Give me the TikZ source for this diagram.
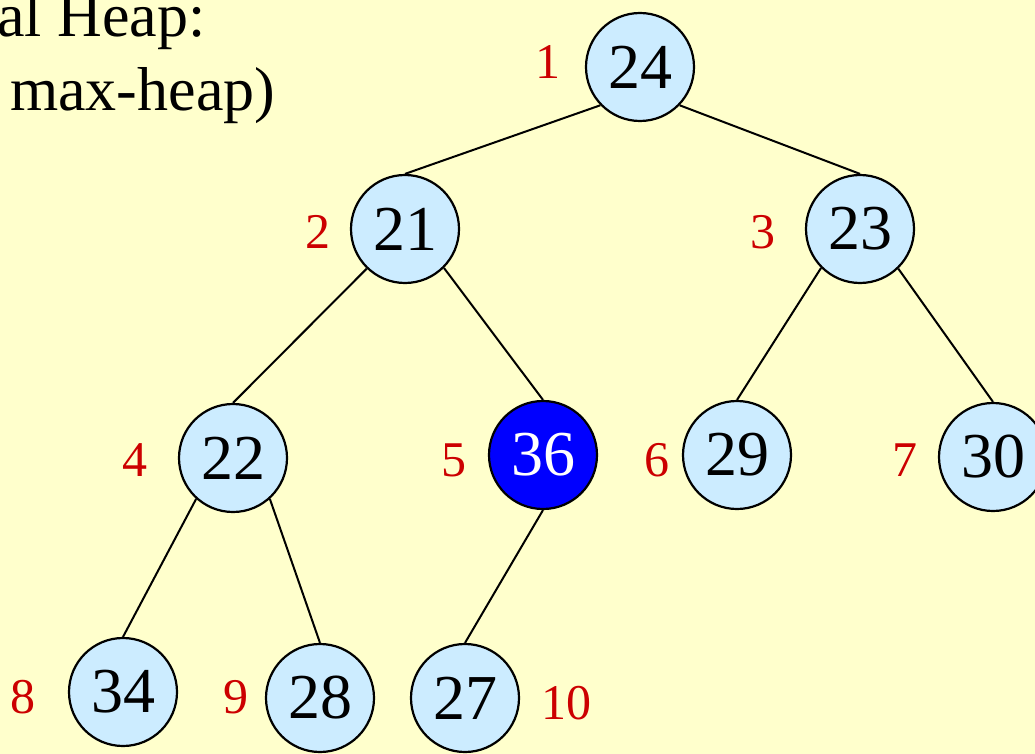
\documentclass[tikz,border=0pt]{standalone}
\usepackage{fontspec}
\setmainfont{Liberation Serif}
\definecolor{bgyellow}{HTML}{FFFFCC}
\definecolor{nodeblue}{HTML}{CCECFF}
\definecolor{hotblue}{HTML}{0000FF}
\definecolor{idxred}{HTML}{CC0000}
\begin{document}
\begin{tikzpicture}[x=1pt,y=-1pt,
  heapnode/.style={circle,draw=black,line width=2.2pt,fill=nodeblue,minimum size=108pt,inner sep=0pt,font=\fontsize{64}{64}\selectfont},
  hotnode/.style={heapnode,fill=hotblue,text=white},
  idx/.style={text=idxred,font=\fontsize{50}{50}\selectfont,inner sep=0pt},
  titletext/.style={font=\fontsize{62}{62}\selectfont,inner sep=0pt,anchor=base west},
  edge/.style={line width=2pt}]
\fill[bgyellow] (0,0) rectangle (1035,754);
\useasboundingbox (0,0) rectangle (1035,754);
\node[titletext] (t1) at (-3,37) {al Heap:};
\node[titletext] (t2) at (10,111) {max-heap)};
\node[heapnode] (n1) at (640,67) {24};
\node[heapnode] (n2) at (405,229) {21};
\node[heapnode] (n3) at (860,229) {23};
\node[heapnode] (n4) at (233,458) {22};
\node[hotnode]  (n5) at (543,455) {36};
\node[heapnode] (n6) at (737,455) {29};
\node[heapnode] (n7) at (993,457) {30};
\node[heapnode] (n8) at (123,692) {34};
\node[heapnode] (n9) at (320,698) {28};
\node[heapnode] (n10) at (465,698) {27};
\draw[edge] (n1.-136) -- (n2.north);
\draw[edge] (n1.-44) -- (n3.north);
\draw[edge] (n2.-134) -- (n4.north);
\draw[edge] (n2.-45) -- (n5.north);
\draw[edge] (n3.-135) -- (n6.north);
\draw[edge] (n3.-46) -- (n7.north);
\draw[edge] (n4.-132) -- (n8.north);
\draw[edge] (n4.-48) -- (n9.north);
\draw[edge] (n5.south) -- (n10.north);
\node[idx] (l1) at (548,62) {1};
\node[idx] (l2) at (318,232) {2};
\node[idx] (l3) at (763,232) {3};
\node[idx] (l4) at (135,460) {4};
\node[idx] (l5) at (454,460) {5};
\node[idx] (l6) at (657,460) {6};
\node[idx] (l7) at (905,460) {7};
\node[idx] (l8) at (23,697) {8};
\node[idx] (l9) at (236,697) {9};
\node[idx] (l10) at (566,703) {10};
\end{tikzpicture}
\end{document}
